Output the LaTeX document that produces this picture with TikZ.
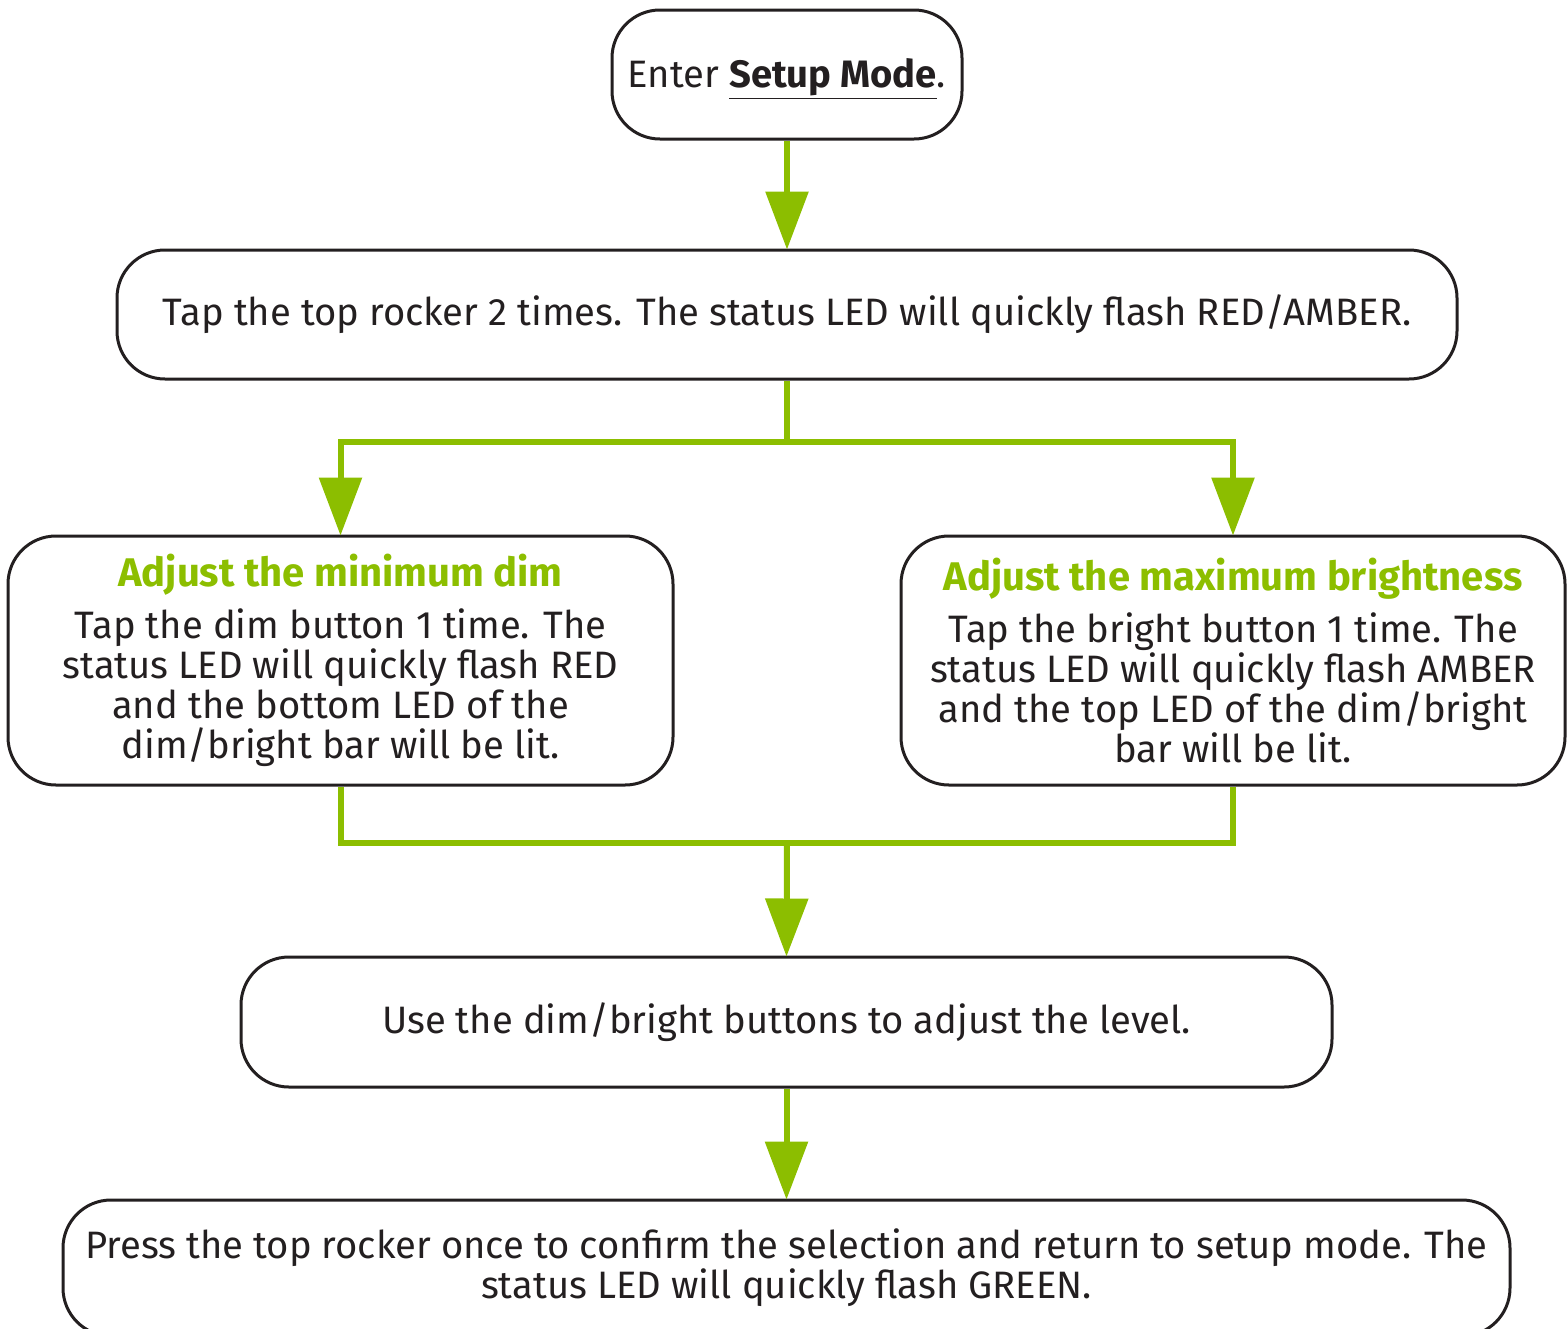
\documentclass[tikz,border=0pt]{standalone}
\usepackage{fontspec}
\setmainfont{Fira Sans}
\usetikzlibrary{arrows.meta}
\definecolor{leaf}{RGB}{140,190,0}
\definecolor{ink}{RGB}{35,31,32}

\begin{document}
\begin{tikzpicture}[x=0.5pt, y=-0.5pt,
    box/.style={draw=ink, line width=1.5pt, rounded corners=24pt, align=center,
        text=ink, font=\fontsize{19.1}{20}\selectfont, inner sep=0pt},
    line/.style={leaf, line width=3pt},
    arr/.style={line, -{Triangle[length=29pt, width=21pt]}, shorten >=-0.5pt},
    head/.style={text=leaf, font=\bfseries}]
    \useasboundingbox (0,0) rectangle (1568,1328);

    % Boxes
    \node[box, minimum width=175pt, minimum height=64.5pt] (mode) at (787,74.5)
        {Enter \smash{\underline{\textbf{Setup Mode}}}.};
    \node[box, minimum width=670pt, minimum height=64.5pt] (tap) at (787,314.5)
        {Tap the top rocker 2 times. The status LED will quickly flash RED/AMBER.};
    \node[box, minimum width=332.5pt, minimum height=124.5pt] (dim) at (340.5,660.5)
        {{\fontsize{20}{20}\selectfont\bfseries\color{leaf}Adjust the minimum dim}\\[6pt]
         Tap the dim button 1 time. The\\
         status LED will quickly flash RED\\
         and the bottom LED of the\\
         dim/bright bar will be lit.};
    \node[box, minimum width=332pt, minimum height=124.5pt] (bright) at (1233,660.5)
        {{\fontsize{20}{20}\selectfont\bfseries\color{leaf}Adjust the maximum brightness}\\[6pt]
         Tap the bright button 1 time. The\\
         status LED will quickly flash AMBER\\
         and the top LED of the dim/bright\\
         bar will be lit.};
    \node[box, minimum width=545.5pt, minimum height=65pt] (level) at (786.5,1022)
        {Use the dim/bright buttons to adjust the level.};
    \node[box, minimum width=723.5pt, minimum height=68pt] (confirm) at (786.5,1268)
        {Press the top rocker once to confirm the selection and return to setup mode. The\\
         status LED will quickly flash GREEN.};

    % Arrows
    \coordinate (split) at (787,442);
    \coordinate (join) at (787,843);
    \draw[arr] (mode) -- (tap);
    \draw[line] (tap.south) -- (split);
    \draw[arr] (split) -| (dim.north);
    \draw[arr] (split) -| (bright.north);
    \draw[line] (dim.south) |- (join);
    \draw[line] (bright.south) |- (join);
    \draw[arr] (join) -- (level.north);
    \draw[arr] (level) -- (confirm);
\end{tikzpicture}
\end{document}
